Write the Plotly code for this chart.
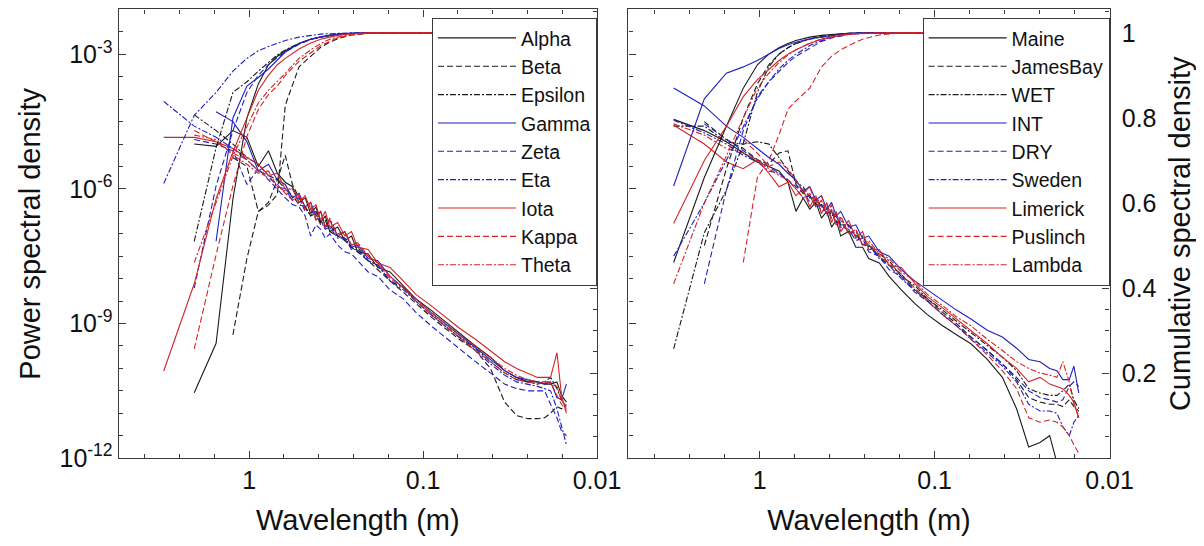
import plotly.graph_objects as go

# wavelengths (m) of the spectral estimates
wavelength = [3.1, 2.07, 1.55, 1.24, 1.03, 0.886, 0.775, 0.689, 0.62, 0.564,
              0.517, 0.477, 0.443, 0.413, 0.388, 0.365, 0.344, 0.31, 0.282, 0.258,
              0.238, 0.207, 0.182, 0.155, 0.13, 0.11, 0.09, 0.075, 0.062, 0.05,
              0.041, 0.034, 0.029, 0.025, 0.022, 0.02, 0.0185, 0.017, 0.016, 0.015]
# wavelengths used for the cumulative curves
cum_wavelength = [3.1, 2.07, 1.55, 1.24, 1.03, 0.886, 0.775, 0.689, 0.62, 0.517,
                  0.443, 0.388, 0.344, 0.31, 0.258, 0.207, 0.155, 0.015]

# ---- left panel: log10 of power spectral density
alpha_psd = [None, -5.0, -5.05, -4.7, -4.85, -5.5, -5.15, -5.65, -5.85,
             -5.95, -6.3, -6.2, -6.55, -6.4, -6.75, -6.6, -6.95, -6.85, -7.15, -7.05, -7.4, -7.45, -7.75, -7.85, -8.15,
             -8.45, -8.7, -8.95, -9.2, -9.5, -9.75, -10.05, -10.2, -10.3, -10.3, -10.35, -10.35, -10.3, -10.6, -10.75]
beta_psd = [None, None, None, -5.3, -5.5, -6.5, -6.3, -5.8, -5.25,
            -5.9, -6.2, -6.4, -6.6, -6.5, -6.75, -6.85, -6.8, -7.05, -7.15, -7.3, -7.4, -7.6, -7.8, -8.05, -8.3,
            -8.55, -8.85, -9.1, -9.35, -9.6, -10.0, -10.75, -11.05, -11.12, -11.12, -11.1, -11.0, -10.85, -10.9, -10.8]
epsilon_psd = [None, -4.35, -4.7, -5.0, -5.3, -5.45, -5.7, -5.8, -6.0,
               -6.15, -6.35, -6.4, -6.6, -6.55, -6.8, -6.7, -6.95, -7.05, -7.1, -7.3, -7.3, -7.6, -7.7, -8.05, -8.2,
               -8.5, -8.8, -9.05, -9.3, -9.55, -9.85, -10.1, -10.25, -10.3, -10.35, -10.3, -10.2, -10.45, -10.7, -10.85]
gamma_psd = [None, None, -4.28, -4.5, -4.95, -5.6, -5.45, -5.8, -5.9,
             -6.2, -6.1, -6.4, -6.3, -6.6, -6.5, -6.85, -6.7, -7.05, -6.95, -7.3, -7.25, -7.55, -7.6, -7.95, -8.2,
             -8.45, -8.75, -9.0, -9.25, -9.55, -9.8, -10.05, -10.2, -10.25, -10.3, -10.35, -10.3, -10.65, -10.7, -10.35]
zeta_psd = [None, -4.9, -5.0, -5.15, -5.9, -5.55, -5.8, -6.0, -6.2,
            -6.35, -6.4, -6.6, -7.05, -6.8, -6.9, -7.1, -7.0, -7.25, -7.4, -7.45, -7.6, -7.85, -7.95, -8.25, -8.45,
            -8.75, -9.05, -9.3, -9.55, -9.85, -10.1, -10.35, -10.45, -10.5, -10.5, -10.5, -10.8, -11.1, -11.4, -11.5]
eta_psd = [-4.05, -4.6, -4.85, -5.1, -5.35, -5.6, -5.7, -5.95, -6.0,
           -6.25, -6.2, -6.5, -6.45, -6.65, -6.7, -6.9, -6.85, -7.1, -7.1, -7.35, -7.35, -7.6, -7.7, -8.05, -8.25,
           -8.5, -8.8, -9.05, -9.3, -9.6, -9.9, -10.15, -10.3, -10.35, -10.4, -10.45, -10.5, -10.9, -11.3, -11.7]
iota_psd = [-4.85, -4.85, -4.95, -5.1, -5.3, -5.45, -5.7, -5.65, -6.0,
            -6.0, -6.3, -6.15, -6.45, -6.35, -6.7, -6.5, -6.85, -6.75, -7.05, -6.95, -7.3, -7.35, -7.65, -7.75, -8.05,
            -8.35, -8.6, -8.85, -9.1, -9.35, -9.6, -9.85, -10.0, -10.1, -10.2, -10.2, -10.2, -9.65, -10.6, -11.0]
kappa_psd = [None, -4.7, -4.95, -5.2, -5.35, -5.6, -5.75, -5.9, -6.1,
             -6.25, -6.1, -6.45, -6.3, -6.7, -6.5, -6.85, -6.7, -7.0, -6.95, -7.25, -7.2, -7.5, -7.65, -8.0, -8.2,
             -8.5, -8.8, -9.05, -9.3, -9.6, -9.85, -10.1, -10.25, -10.3, -10.35, -10.3, -10.3, -10.6, -10.8, -10.95]
theta_psd = [None, -4.8, -4.9, -5.25, -5.45, -5.65, -5.6, -5.95, -6.05,
             -6.25, -6.15, -6.45, -6.35, -6.7, -6.5, -6.85, -6.65, -7.05, -6.95, -7.25, -7.2, -7.5, -7.65, -7.95, -8.2,
             -8.45, -8.75, -9.0, -9.25, -9.5, -9.75, -10.0, -10.15, -10.25, -10.3, -10.3, -10.35, -10.4, -10.7, -10.9]

# ---- left panel: cumulative spectral density
alpha_cum = [None, 0.154, 0.27, 0.61, 0.80, 0.88, 0.925, 0.945, 0.958, 0.975, 0.985, 0.99, 0.994, 0.996, 0.999, 1.0, 1.0, 1.0]
beta_cum = [None, None, None, 0.29, 0.47, 0.58, 0.595, 0.62, 0.83, 0.92, 0.946, 0.966, 0.978, 0.986, 0.995, 0.999, 1.0, 1.0]
epsilon_cum = [None, 0.51, 0.73, 0.86, 0.885, 0.91, 0.93, 0.948, 0.96, 0.975, 0.985, 0.991, 0.995, 0.997, 0.999, 1.0, 1.0, 1.0]
gamma_cum = [None, None, 0.51, 0.80, 0.875, 0.895, 0.915, 0.935, 0.955, 0.975, 0.985, 0.991, 0.995, 0.997, 0.999, 1.0, 1.0, 1.0]
zeta_cum = [None, 0.40, 0.64, 0.77, 0.86, 0.9, 0.925, 0.942, 0.955, 0.973, 0.984, 0.99, 0.994, 0.997, 0.999, 1.0, 1.0, 1.0]
eta_cum = [0.646, 0.806, 0.86, 0.91, 0.94, 0.958, 0.968, 0.976, 0.982, 0.99, 0.994, 0.997, 0.998, 0.999, 1.0, 1.0, 1.0, 1.0]
iota_cum = [0.205, 0.41, 0.61, 0.72, 0.80, 0.865, 0.9, 0.925, 0.94, 0.962, 0.976, 0.985, 0.99, 0.994, 0.998, 1.0, 1.0, 1.0]
kappa_cum = [None, 0.257, 0.478, 0.64, 0.757, 0.82, 0.855, 0.875, 0.9, 0.933, 0.954, 0.97, 0.98, 0.988, 0.995, 0.999, 1.0, 1.0]
theta_cum = [None, 0.46, 0.6, 0.71, 0.78, 0.835, 0.865, 0.885, 0.905, 0.94, 0.96, 0.975, 0.985, 0.99, 0.996, 1.0, 1.0, 1.0]

# ---- right panel: log10 of power spectral density
maine_psd = [-4.45, -4.7, -4.95, -5.2, -5.4, -5.5, -5.6, -5.85, -6.5,
             -6.2, -6.45, -6.3, -6.65, -6.5, -6.85, -6.7, -7.05, -6.95, -7.3, -7.3, -7.55, -7.65, -7.95, -8.25, -8.55,
             -8.8, -9.05, -9.25, -9.45, -9.8, -10.2, -10.9, -11.75, -11.65, -11.5, -12.1, -12.6, -13.0, -13.0, -13.0]
jamesbay_psd = [None, -4.5, -4.9, -5.1, -5.35, -5.45, -5.2, -5.15, -5.9,
                -6.1, -6.15, -6.35, -6.35, -6.55, -6.5, -6.75, -6.75, -6.95, -7.0, -7.25, -7.25, -7.5, -7.7, -7.9, -8.25,
                -8.45, -8.75, -9.0, -9.3, -9.6, -9.9, -10.25, -10.65, -10.75, -10.8, -10.8, -10.85, -10.7, -10.85, -10.95]
wet_psd = [-4.6, -4.6, -4.95, -5.0, -4.95, -5.0, -5.3, -5.6, -5.85,
           -5.95, -6.2, -6.2, -6.4, -6.35, -6.6, -6.55, -6.8, -6.8, -7.05, -7.05, -7.3, -7.45, -7.6, -7.95, -8.15,
           -8.45, -8.7, -8.95, -9.2, -9.5, -9.75, -10.05, -10.45, -10.55, -10.6, -10.6, -10.5, -10.35, -10.7, -10.9]
int_psd = [-3.75, -4.15, -4.6, -4.85, -5.1, -5.3, -5.45, -5.65, -5.8,
           -6.05, -5.95, -6.25, -6.15, -6.45, -6.3, -6.6, -6.5, -6.85, -6.8, -7.1, -7.05, -7.4, -7.5, -7.8, -8.05,
           -8.25, -8.5, -8.7, -8.9, -9.15, -9.3, -9.55, -9.8, -9.85, -10.0, -10.05, -10.25, -10.25, -9.95, -10.55]
dry_psd = [None, -4.55, -4.9, -5.15, -5.35, -5.5, -5.65, -5.8, -5.95,
           -6.05, -6.3, -6.25, -6.5, -6.45, -6.65, -6.6, -6.85, -6.9, -7.15, -7.1, -7.4, -7.5, -7.8, -7.95, -8.3,
           -8.5, -8.8, -9.05, -9.3, -9.6, -9.9, -10.2, -10.5, -10.65, -10.7, -10.75, -10.7, -10.4, -10.3, -10.4]
sweden_psd = [-4.47, -4.75, -5.0, -5.25, -5.4, -5.6, -5.65, -5.8, -6.0,
              -6.2, -6.15, -6.4, -6.35, -6.55, -6.5, -6.75, -6.7, -7.0, -6.95, -7.25, -7.25, -7.55, -7.7, -8.0, -8.25,
              -8.5, -8.8, -9.05, -9.35, -9.65, -9.95, -10.3, -10.8, -10.95, -10.95, -11.0, -11.3, -11.5, -11.2, -11.05]
limerick_psd = [-4.58, -5.0, -5.4, -5.55, -5.35, -5.65, -5.95, -5.85, -6.15,
                -6.0, -6.4, -6.15, -6.55, -6.3, -6.75, -6.5, -6.95, -6.7, -7.1, -6.95, -7.35, -7.35, -7.7, -7.75, -8.1,
                -8.4, -8.65, -8.9, -9.15, -9.45, -9.75, -10.0, -10.3, -10.2, -10.35, -10.4, -10.45, -10.6, -10.75, -11.1]
puslinch_psd = [None, None, None, -4.9, -5.2, -5.5, -5.4, -5.55, -5.8,
                -6.1, -5.95, -6.35, -6.15, -6.55, -6.35, -6.8, -6.6, -7.0, -6.9, -7.25, -7.2, -7.5, -7.65, -7.9, -8.2,
                -8.5, -8.8, -9.05, -9.35, -9.7, -10.05, -10.45, -11.1, -11.2, -11.15, -11.2, -11.3, -11.5, -11.7, -11.9]
lambda_psd = [-4.55, -4.8, -5.1, -5.2, -5.35, -5.55, -5.7, -5.8, -6.0,
              -6.2, -6.1, -6.4, -6.25, -6.6, -6.45, -6.8, -6.65, -7.0, -6.9, -7.25, -7.15, -7.45, -7.55, -7.85, -8.05,
              -8.35, -8.6, -8.85, -9.05, -9.35, -9.6, -9.85, -10.0, -10.1, -10.15, -10.2, -9.85, -10.3, -10.8, -11.1]

# ---- right panel: cumulative spectral density
maine_cum = [0.46, 0.66, 0.78, 0.87, 0.925, 0.95, 0.965, 0.975, 0.982, 0.99, 0.994, 0.997, 0.998, 0.999, 1.0, 1.0, 1.0, 1.0]
jamesbay_cum = [None, 0.5, 0.68, 0.8, 0.88, 0.925, 0.95, 0.965, 0.975, 0.986, 0.992, 0.995, 0.997, 0.999, 1.0, 1.0, 1.0, 1.0]
wet_cum = [0.257, 0.53, 0.63, 0.74, 0.86, 0.92, 0.95, 0.965, 0.975, 0.985, 0.99, 0.994, 0.997, 0.998, 1.0, 1.0, 1.0, 1.0]
int_cum = [0.64, 0.845, 0.905, 0.92, 0.935, 0.95, 0.963, 0.972, 0.978, 0.986, 0.99, 0.994, 0.997, 0.999, 1.0, 1.0, 1.0, 1.0]
dry_cum = [None, 0.41, 0.63, 0.77, 0.85, 0.885, 0.91, 0.93, 0.945, 0.965, 0.98, 0.988, 0.993, 0.996, 0.999, 1.0, 1.0, 1.0]
sweden_cum = [0.475, 0.6, 0.7, 0.78, 0.845, 0.885, 0.915, 0.935, 0.95, 0.97, 0.982, 0.99, 0.994, 0.997, 0.999, 1.0, 1.0, 1.0]
limerick_cum = [0.552, 0.70, 0.78, 0.85, 0.89, 0.915, 0.935, 0.95, 0.96, 0.975, 0.985, 0.99, 0.994, 0.997, 0.999, 1.0, 1.0, 1.0]
puslinch_cum = [None, None, None, 0.46, 0.66, 0.70, 0.76, 0.82, 0.84, 0.87, 0.92, 0.945, 0.96, 0.97, 0.985, 0.995, 1.0, 1.0]
lambda_cum = [0.41, 0.6, 0.71, 0.8, 0.87, 0.905, 0.93, 0.948, 0.96, 0.976, 0.986, 0.991, 0.995, 0.997, 0.999, 1.0, 1.0, 1.0]

BLACK = '#1a1a1a'
BLUE = '#1f1fc4'
RED = '#d42424'
DASHES = {'solid': 'solid', 'dash': '6px,3px', 'dashdot': '6px,2px,2px,2px'}

left_series = [
    ('Alpha', alpha_psd, alpha_cum, BLACK, 'solid'),
    ('Beta', beta_psd, beta_cum, BLACK, 'dash'),
    ('Epsilon', epsilon_psd, epsilon_cum, BLACK, 'dashdot'),
    ('Gamma', gamma_psd, gamma_cum, BLUE, 'solid'),
    ('Zeta', zeta_psd, zeta_cum, BLUE, 'dash'),
    ('Eta', eta_psd, eta_cum, BLUE, 'dashdot'),
    ('Iota', iota_psd, iota_cum, RED, 'solid'),
    ('Kappa', kappa_psd, kappa_cum, RED, 'dash'),
    ('Theta', theta_psd, theta_cum, RED, 'dashdot'),
]
right_series = [
    ('Maine', maine_psd, maine_cum, BLACK, 'solid'),
    ('JamesBay', jamesbay_psd, jamesbay_cum, BLACK, 'dash'),
    ('WET', wet_psd, wet_cum, BLACK, 'dashdot'),
    ('INT', int_psd, int_cum, BLUE, 'solid'),
    ('DRY', dry_psd, dry_cum, BLUE, 'dash'),
    ('Sweden', sweden_psd, sweden_cum, BLUE, 'dashdot'),
    ('Limerick', limerick_psd, limerick_cum, RED, 'solid'),
    ('Puslinch', puslinch_psd, puslinch_cum, RED, 'dash'),
    ('Lambda', lambda_psd, lambda_cum, RED, 'dashdot'),
]

FONT = 'Liberation Sans, Arial, sans-serif'
AXIS_COLOR = '#3a3a3a'
TEXT_COLOR = '#111111'

fig = go.Figure()


def add_panel(series, xref, y_psd, y_cum, legend):
    for name, psd, cum, color, dash in series:
        line = dict(color=color, width=1.1, dash=DASHES[dash])
        fig.add_trace(go.Scatter(
            x=wavelength, y=[None if v is None else 10 ** v for v in psd],
            mode='lines', name=name, line=line, xaxis=xref, yaxis=y_psd,
            legend=legend, legendgroup=legend + name, hoverinfo='skip'))
        fig.add_trace(go.Scatter(
            x=cum_wavelength, y=cum, mode='lines', name=name, line=line,
            xaxis=xref, yaxis=y_cum, showlegend=False, legendgroup=legend + name,
            hoverinfo='skip'))


add_panel(left_series, 'x', 'y', 'y2', 'legend')
add_panel(right_series, 'x2', 'y3', 'y4', 'legend2')

W, H = 1204, 546
left_dom = [113 / W, 601 / W]
right_dom = [633 / W, 1124 / W]
y_dom = [1 - 462 / H, 1 - 1.5 / H]

common = dict(showgrid=False, zeroline=False, showline=True, linecolor=AXIS_COLOR, linewidth=1.3,
              ticks='inside', ticklen=7, tickwidth=1, tickcolor=AXIS_COLOR,
              tickfont=dict(size=25, color=TEXT_COLOR, family=FONT))

x_common = dict(common, type='log', range=[0.75, -2.0], mirror='ticks',
                tickmode='array', tickvals=[1, 0.1, 0.01], ticktext=['1', '0.1', '0.01'],
                minor=dict(tickmode='linear', tick0=0, dtick=0.2, ticks='inside', ticklen=4, tickcolor=AXIS_COLOR),
                title=dict(text='Wavelength (m)', font=dict(size=29, color=TEXT_COLOR, family=FONT), standoff=16))

psd_common = dict(common, type='log', range=[-12, -2],
                  tickmode='array', tickvals=[1e-12, 1e-9, 1e-6, 1e-3],
                  ticktext=['10<sup>-12</sup>', '10<sup>-9</sup>', '10<sup>-6</sup>', '10<sup>-3</sup>'],
                  minor=dict(tickmode='linear', tick0=0, dtick=0.5, ticks='inside', ticklen=4, tickcolor=AXIS_COLOR))

cum_common = dict(common, range=[0, 1.055], side='right',
                  tickmode='array', tickvals=[0.2, 0.4, 0.6, 0.8, 1], ticktext=['0.2', '0.4', '0.6', '0.8', '1'],
                  minor=dict(tickmode='linear', tick0=0, dtick=0.05, ticks='inside', ticklen=4, tickcolor=AXIS_COLOR))

legend_common = dict(xanchor='right', yanchor='top', y=1 - 10 / H, bgcolor='white',
                     bordercolor=AXIS_COLOR, borderwidth=1, itemwidth=78, tracegroupgap=0,
                     font=dict(size=19.5, color=TEXT_COLOR, family=FONT))

fig.update_layout(
    width=W, height=H,
    margin=dict(l=0, r=0, t=0, b=0),
    paper_bgcolor='white', plot_bgcolor='white',
    font=dict(family=FONT, color=TEXT_COLOR),
    hovermode=False,
    xaxis=dict(x_common, domain=left_dom, anchor='y'),
    xaxis2=dict(x_common, domain=right_dom, anchor='y3'),
    yaxis=dict(psd_common, domain=y_dom, anchor='x',
               title=dict(text='Power spectral density', font=dict(size=29, color=TEXT_COLOR, family=FONT), standoff=10)),
    yaxis2=dict(cum_common, overlaying='y', anchor='x', showticklabels=False),
    yaxis3=dict(psd_common, domain=y_dom, anchor='x2', showticklabels=False),
    yaxis4=dict(cum_common, overlaying='y3', anchor='x2', ticklabelstandoff=6,
                title=dict(text='Cumulative spectral density', font=dict(size=29, color=TEXT_COLOR, family=FONT), standoff=14)),
    legend=dict(legend_common, x=left_dom[1]),
    legend2=dict(legend_common, x=right_dom[1]),
)

fig.write_html('out.html', config={'displayModeBar': False})
